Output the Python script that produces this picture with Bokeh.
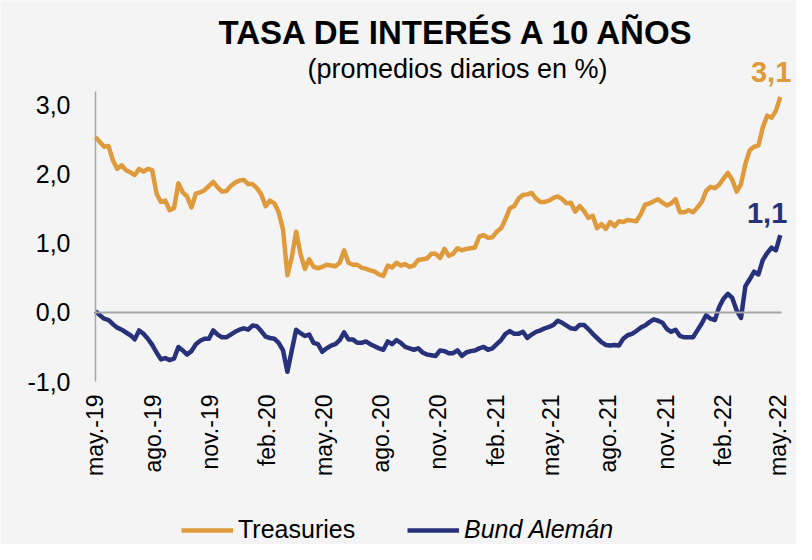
import pandas as pd
from bokeh.plotting import figure
from bokeh.models import (Label, Legend, LegendItem, FixedTicker, DatetimeAxis,
                          CustomJSTickFormatter, Range1d)
from bokeh.embed import file_html
from bokeh.resources import INLINE

# ---------------- data (weekly readings of the daily series, %) ----------------
start_date = "2019-05-01"
end_date = "2022-05-06"

treasuries = [2.54, 2.47, 2.40, 2.41, 2.20, 2.08, 2.13, 2.06, 2.03, 1.99,
              2.08, 2.04, 2.08, 2.06, 1.72, 1.60, 1.62, 1.48, 1.51, 1.87,
              1.74, 1.68, 1.52, 1.72, 1.74, 1.77, 1.83, 1.89, 1.81, 1.75,
              1.76, 1.83, 1.88, 1.91, 1.92, 1.86, 1.86, 1.80, 1.71, 1.54,
              1.62, 1.58, 1.45, 1.20, 0.54, 0.80, 1.17, 0.85, 0.63, 0.77,
              0.66, 0.64, 0.66, 0.69, 0.68, 0.67, 0.72, 0.90, 0.72, 0.69,
              0.69, 0.65, 0.63, 0.61, 0.59, 0.55, 0.53, 0.68, 0.65, 0.72,
              0.68, 0.70, 0.66, 0.68, 0.76, 0.77, 0.78, 0.85, 0.85, 0.79,
              0.92, 0.82, 0.85, 0.93, 0.90, 0.92, 0.93, 0.94, 1.10, 1.12,
              1.08, 1.09, 1.17, 1.22, 1.35, 1.51, 1.54, 1.65, 1.70, 1.71,
              1.73, 1.65, 1.60, 1.60, 1.62, 1.66, 1.68, 1.64, 1.58, 1.59,
              1.46, 1.54, 1.47, 1.37, 1.40, 1.22, 1.28, 1.21, 1.31, 1.25,
              1.32, 1.31, 1.34, 1.33, 1.32, 1.42, 1.56, 1.58, 1.61, 1.64,
              1.59, 1.55, 1.58, 1.64, 1.45, 1.45, 1.48, 1.45, 1.52, 1.60,
              1.76, 1.82, 1.80, 1.85, 1.94, 2.02, 1.92, 1.75, 1.86, 2.15,
              2.35, 2.40, 2.42, 2.68, 2.85, 2.82, 2.92, 3.12]

bund = [0.02, -0.04, -0.09, -0.11, -0.17, -0.22, -0.25, -0.29, -0.33, -0.39,
        -0.26, -0.31, -0.38, -0.47, -0.58, -0.68, -0.66, -0.69, -0.67, -0.50,
        -0.55, -0.61, -0.56, -0.46, -0.41, -0.38, -0.38, -0.26, -0.32, -0.36,
        -0.36, -0.32, -0.28, -0.25, -0.23, -0.25, -0.19, -0.20, -0.27, -0.35,
        -0.37, -0.38, -0.44, -0.55, -0.86, -0.55, -0.25, -0.30, -0.34, -0.32,
        -0.44, -0.46, -0.57, -0.52, -0.48, -0.46, -0.40, -0.29, -0.39, -0.39,
        -0.44, -0.44, -0.42, -0.46, -0.49, -0.52, -0.54, -0.42, -0.46, -0.40,
        -0.44, -0.50, -0.52, -0.54, -0.52, -0.58, -0.61, -0.62, -0.63, -0.55,
        -0.56, -0.59, -0.59, -0.55, -0.63, -0.58, -0.56, -0.55, -0.52, -0.50,
        -0.54, -0.52, -0.46, -0.40, -0.31, -0.27, -0.31, -0.31, -0.28, -0.37,
        -0.32, -0.28, -0.26, -0.23, -0.21, -0.18, -0.12, -0.15, -0.19, -0.23,
        -0.24, -0.18, -0.18, -0.24, -0.31, -0.37, -0.43, -0.47, -0.48, -0.47,
        -0.48, -0.38, -0.33, -0.31, -0.27, -0.22, -0.19, -0.14, -0.10, -0.12,
        -0.15, -0.24, -0.28, -0.25, -0.34, -0.36, -0.36, -0.36, -0.26, -0.16,
        -0.04, -0.09, -0.11, 0.08, 0.20, 0.27, 0.21, 0.03, -0.08, 0.38,
        0.48, 0.59, 0.55, 0.76, 0.86, 0.94, 0.90, 1.12]

tick_dates = ["2019-05-01", "2019-08-01", "2019-11-01", "2020-02-01",
              "2020-05-01", "2020-08-01", "2020-11-01", "2021-02-01",
              "2021-05-01", "2021-08-01", "2021-11-01", "2022-02-01",
              "2022-05-01"]
tick_labels = ["may.-19", "ago.-19", "nov.-19", "feb.-20", "may.-20", "ago.-20",
               "nov.-20", "feb.-21", "may.-21", "ago.-21", "nov.-21", "feb.-22",
               "may.-22"]
y_ticks = [-1.0, 0.0, 1.0, 2.0, 3.0]
y_min, y_max = -1.0, 3.2

title_text = "TASA DE INTERÉS A 10 AÑOS"
subtitle_text = "(promedios diarios en %)"
series_names = ["Treasuries", "Bund Alemán"]

# ---------------- styling / layout ----------------
ORANGE = "#DF9A3B"
NAVY = "#27327A"
BG = "#F4F4F4"
AXIS_GREY = "#A6A6A6"
FONT = "Liberation Sans"

FIG_W, FIG_H = 796, 544
PLOT_LEFT, PLOT_RIGHT = 95, 781     # pixel columns of start_date / end_date
PLOT_TOP, PLOT_BOTTOM = 91, 381     # pixel rows of y_max / y_min

dates = pd.date_range(start_date, periods=len(treasuries), freq="7D")
t0, t1 = pd.Timestamp(start_date), pd.Timestamp(end_date)
t_per_px = (t1 - t0) / (PLOT_RIGHT - PLOT_LEFT)
v_per_px = (y_max - y_min) / (PLOT_BOTTOM - PLOT_TOP)
x_range = Range1d(t0 - t_per_px * PLOT_LEFT, t1 + t_per_px * (FIG_W - PLOT_RIGHT))
y_range = Range1d(y_min - v_per_px * (FIG_H - PLOT_BOTTOM), y_max + v_per_px * PLOT_TOP)
t0_ms = t0.value / 1e6
t1_ms = t1.value / 1e6

p = figure(width=FIG_W, height=FIG_H, x_axis_type="datetime", title=None,
           x_range=x_range, y_range=y_range,
           output_backend="svg", toolbar_location=None,
           background_fill_color=BG, border_fill_color=BG,
           min_border_left=0, min_border_right=0,
           min_border_top=0, min_border_bottom=0)
p.outline_line_color = None
p.grid.grid_line_color = None

r1 = p.line(dates, treasuries, line_color=ORANGE, line_width=4.5, line_join="round")
r2 = p.line(dates, bund, line_color=NAVY, line_width=4.5, line_join="round")

# x axis (labels only, placed under the -1 level)
tick_ms = [pd.Timestamp(d).value / 1e6 for d in tick_dates]
xa = p.below[0]
xa.fixed_location = y_min
xa.ticker = FixedTicker(ticks=tick_ms)
xa.formatter = CustomJSTickFormatter(args=dict(tvals=tick_ms, tlabs=tick_labels), code="""
    for (let i = 0; i < tvals.length; i++) {
        if (Math.abs(tick - tvals[i]) < 1e6) { return tlabs[i]; }
    }
    return "";
""")
xa.major_label_orientation = 3.14159265 / 2
xa.axis_line_color = None
xa.major_tick_line_color = None
xa.minor_tick_line_color = None
xa.major_label_standoff = 7
xa.major_label_text_font = FONT
xa.major_label_text_font_size = "23px"
xa.major_label_text_color = "#000000"

# horizontal axis line crossing at 0
zero_axis = DatetimeAxis(fixed_location=0, bounds=(t0_ms, t1_ms),
                         ticker=FixedTicker(ticks=[]),
                         axis_line_color=AXIS_GREY, axis_line_width=2,
                         major_tick_line_color=None, minor_tick_line_color=None,
                         major_label_text_font_size="0px")
p.add_layout(zero_axis, "below")

# y axis
ya = p.left[0]
ya.fixed_location = t0_ms
ya.bounds = (y_min, y_max)
ya.ticker = FixedTicker(ticks=y_ticks)
ya.formatter = CustomJSTickFormatter(code="return tick.toFixed(1).replace('.', ',');")
ya.axis_line_color = AXIS_GREY
ya.axis_line_width = 1.5
ya.major_tick_line_color = None
ya.minor_tick_line_color = None
ya.major_tick_out = 0
ya.major_label_standoff = 25
ya.major_label_text_font = FONT
ya.major_label_text_font_size = "25px"
ya.major_label_text_color = "#000000"

# titles
p.add_layout(Label(x=457, y=FIG_H - 32, x_units="screen", y_units="screen", text=title_text,
                   text_align="center", text_baseline="alphabetic",
                   text_font=FONT, text_font_style="bold",
                   text_font_size="33px", text_color="#000000"))
p.add_layout(Label(x=457, y=FIG_H - 68, x_units="screen", y_units="screen", text=subtitle_text,
                   text_align="center", text_baseline="alphabetic",
                   text_font=FONT, text_font_size="27px", text_color="#000000"))

# end-value labels
def fmt(v):
    return f"{v:.1f}".replace(".", ",")

p.add_layout(Label(x=dates[-1], y=treasuries[-1], text=fmt(treasuries[-1]),
                   x_offset=11, y_offset=25, text_align="right", text_baseline="alphabetic",
                   text_font=FONT, text_font_style="bold",
                   text_font_size="29px", text_color=ORANGE))
p.add_layout(Label(x=dates[-1], y=bund[-1], text=fmt(bund[-1]),
                   x_offset=7, y_offset=22, text_align="right", text_baseline="alphabetic",
                   text_font=FONT, text_font_style="bold",
                   text_font_size="29px", text_color=NAVY))

# legends
def make_legend(name, renderer, x, style):
    lg = Legend(items=[LegendItem(label=name, renderers=[renderer])],
                location=(x, 0), orientation="horizontal",
                background_fill_alpha=0, border_line_color=None,
                padding=0, margin=0, spacing=0,
                glyph_width=52, glyph_height=20, label_standoff=5,
                label_text_font=FONT, label_text_font_size="25px",
                label_text_font_style=style, label_text_color="#000000")
    p.add_layout(lg, "center")

make_legend(series_names[0], r1, 181, "normal")
make_legend(series_names[1], r2, 407, "italic")

open("out.html", "w").write(file_html(p, INLINE))
